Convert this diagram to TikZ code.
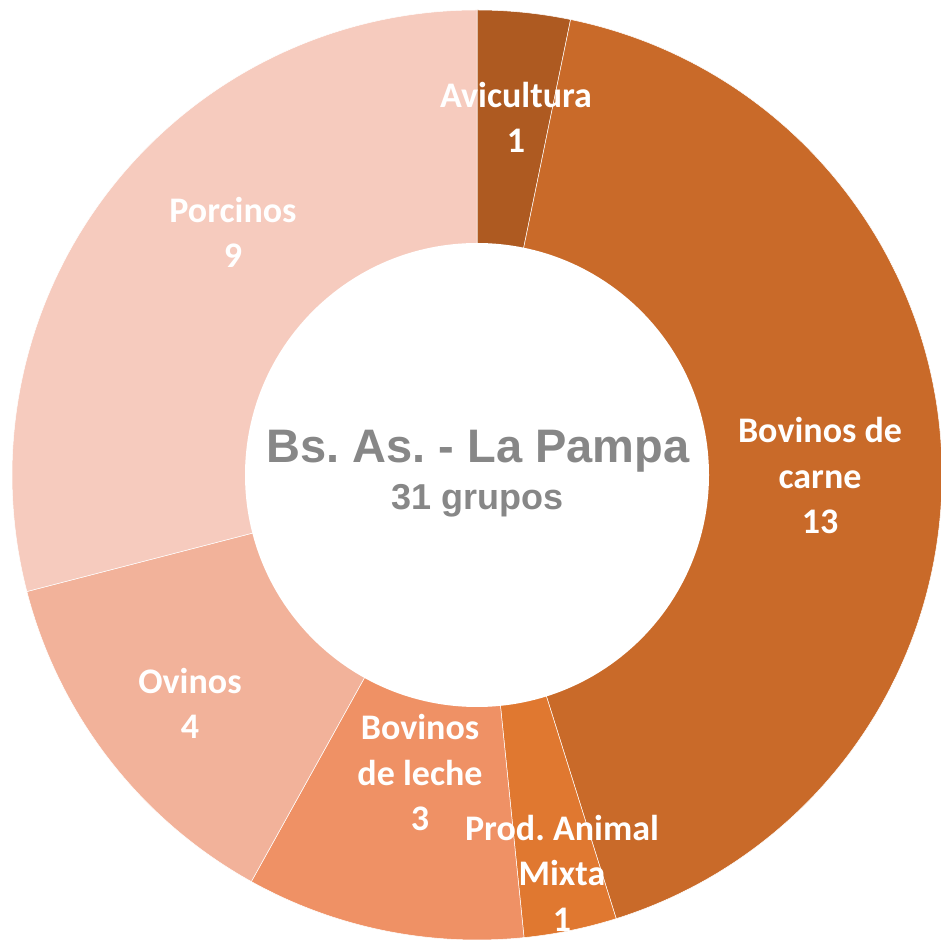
\documentclass[tikz,border=0pt]{standalone}
\usepackage{fontspec}
\newfontfamily\labfont{Carlito}
\newfontfamily\ttlfont{Liberation Sans}
\definecolor{cavi}{HTML}{AE5A21}
\definecolor{ccarne}{HTML}{C96A29}
\definecolor{cmixta}{HTML}{E07830}
\definecolor{cleche}{HTML}{EF9165}
\definecolor{covi}{HTML}{F2B29A}
\definecolor{cporc}{HTML}{F6CBBE}
\definecolor{cgray}{HTML}{878787}
\frenchspacing
\begin{document}
\begin{tikzpicture}[x=1pt,y=1pt,
  slice/.style={draw=white,line width=0.5pt},
  lab/.style={text=white,font=\labfont\bfseries\fontsize{36}{45.5}\selectfont,align=center,anchor=base,inner sep=0pt},
  ttl/.style={text=cgray,font=\ttlfont\bfseries\fontsize{47}{56}\selectfont,anchor=base,inner sep=0pt},
  sub/.style={text=cgray,font=\ttlfont\bfseries\fontsize{36}{42}\selectfont,anchor=base,inner sep=0pt}]
\useasboundingbox (0,0) rectangle (940,940);
\coordinate (O) at (477,465);
\def\R{465}
% slices: start at 90 deg, clockwise
\foreach \a/\b/\c in {90/78.3871/cavi, 78.3871/-72.5806/ccarne, -72.5806/-84.1935/cmixta, -84.1935/-119.0323/cleche, -119.0323/-165.4839/covi, -165.4839/-270/cporc}{
  \fill[\c,slice] (O) -- ([shift={(\a:\R)}]O) arc[start angle=\a,end angle=\b,radius=\R] -- cycle;
}
\fill[white] (O) circle[radius=232];
\node[ttl] (title) at (478,477) {Bs. As. - La Pampa};
\node[sub] (count) at (477.5,430) {31 grupos};
\node[lab] (avi) at (516,787) {Avicultura\\1};
\node[lab] (porc) at (233,672) {Porcinos\\9};
\node[lab] (carne) at (820,406) {Bovinos de\\carne\\13};
\node[lab] (ovi) at (190,201) {Ovinos\\4};
\node[lab] (leche) at (420,109) {Bovinos\\de leche\\3};
\node[lab] (mixta) at (562,9) {Prod. Animal\\Mixta\\1};
\end{tikzpicture}
\end{document}
